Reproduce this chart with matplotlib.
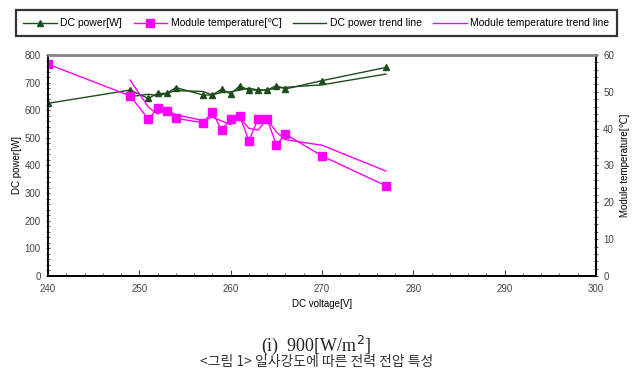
import matplotlib.pyplot as plt
from matplotlib.ticker import MultipleLocator

plt.rcParams['font.family'] = ['Liberation Sans', 'DejaVu Sans']

# measured points
voltage = [240, 249, 251, 252, 253, 254, 257, 258, 259, 260, 261, 262, 263, 264, 265, 266, 270, 277]
dc_power = [625, 673, 643, 661, 661, 682, 655, 655, 676, 659, 688, 673, 673, 673, 689, 677, 707, 755]
module_temp = [57.5, 48.9, 42.6, 45.5, 44.8, 42.8, 41.6, 44.6, 39.6, 42.6, 43.5, 36.7, 42.6, 42.6, 35.6, 38.5, 32.6, 24.5]

# trend lines (start at 249 V)
trend_voltage = [249, 251, 252, 253, 254, 257, 258, 259, 260, 261, 262, 263, 264, 265, 266, 270, 277]
power_trend = [649, 658, 652, 661, 671, 668, 655, 665, 667, 673, 680, 673, 673, 681, 683, 692, 731]
temp_trend = [53.2, 45.8, 44.0, 45.1, 43.8, 42.2, 43.1, 42.1, 41.1, 43.0, 40.1, 39.6, 42.6, 39.1, 37.0, 35.5, 28.5]

green = '#1c4d1c'
magenta = '#ff00ff'

fig = plt.figure(figsize=(6.33, 3.69), dpi=100)
ax = fig.add_axes([0.0758, 0.252, 0.8657, 0.599])
ax2 = ax.twinx()

ax.plot(voltage, dc_power, color=green, marker='^', markersize=5, lw=1, label='DC power[W]')
ax.plot(trend_voltage, power_trend, color=green, lw=1, label='DC power trend line')
ax2.plot(voltage, module_temp, color=magenta, marker='s', markersize=6, lw=1, label='Module temperature[\u2103]')
ax2.plot(trend_voltage, temp_trend, color=magenta, lw=1, label='Module temperature trend line')

ax.set_xlim(240, 300)
ax.set_ylim(0, 800)
ax2.set_ylim(0, 60)
ax.xaxis.set_major_locator(MultipleLocator(10))
ax.xaxis.set_minor_locator(MultipleLocator(2))
ax.yaxis.set_major_locator(MultipleLocator(100))
ax.yaxis.set_minor_locator(MultipleLocator(20))
ax2.yaxis.set_major_locator(MultipleLocator(10))
ax2.yaxis.set_minor_locator(MultipleLocator(2))

ax.tick_params(axis='x', which='both', direction='in', labelsize=7, pad=6, colors='#444444')
ax.tick_params(axis='x', which='major', length=4)
ax.tick_params(axis='x', which='minor', length=2)
ax.tick_params(axis='y', which='both', direction='inout', labelsize=7, colors='#444444')
ax.tick_params(axis='y', which='minor', length=3)
ax2.tick_params(axis='y', which='both', direction='inout', labelsize=7, colors='#444444')
ax2.tick_params(axis='y', which='minor', length=3)

for a in (ax, ax2):
    for s in a.spines.values():
        s.set_linewidth(1.2)
    a.spines['top'].set_color('#888888')
    a.spines['top'].set_linewidth(1.8)

ax.set_xlabel('DC voltage[V]', fontsize=7, labelpad=3)
ax.set_ylabel('DC power[W]', fontsize=7, labelpad=2)
ax2.set_ylabel('Module temperature[\u2103]', fontsize=7, labelpad=4)

h1, l1 = ax.get_legend_handles_labels()
h2, l2 = ax2.get_legend_handles_labels()
handles = [h1[0], h2[0], h1[1], h2[1]]
labels = [l1[0], l2[0], l1[1], l2[1]]
leg = fig.legend(handles, labels, loc='center', bbox_to_anchor=(0.5, 0.937), ncol=4,
                 fontsize=7.5, frameon=True, fancybox=False, edgecolor='black',
                 handlelength=3.2, handletextpad=0.35, columnspacing=1.1,
                 borderpad=0.75, markerscale=0.9)
leg.get_frame().set_linewidth(1.6)

fig.text(0.5, 0.065, '(i)  900[W/m$^2$]', ha='center', va='center', fontsize=13,
         family=['Liberation Serif', 'DejaVu Serif'], color='#222222')
fig.text(0.5, 0.001, '<그림 1> 일사강도에 따른 전력 전압 특성', ha='center', va='bottom',
         fontsize=10, family=['Noto Sans CJK KR', 'DejaVu Sans'], color='#333333')

fig.savefig('out.png', dpi=100)
